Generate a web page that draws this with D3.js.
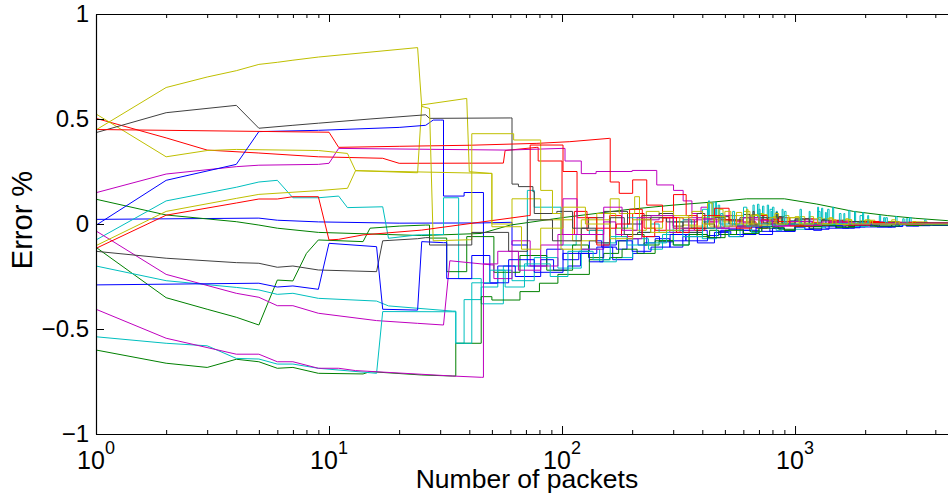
<!DOCTYPE html>
<html>
<head>
<meta charset="utf-8">
<script src="https://cdn.jsdelivr.net/npm/d3@7"></script>
<style>
  body { margin: 0; background: #fff; }
  svg { display: block; }
  text { font-family: "Liberation Sans", Arial, Helvetica, sans-serif; fill: #000; }
</style>
</head>
<body>
<svg id="chart" width="948" height="494"></svg>
<script>
// Running error estimate (%) against number of packets, one trace per run.
// Each run has an early part ([packets, error %] points joined by straight lines)
// and a later part where the estimate holds a level until the next change
// ([packets, new level] entries).
const blueA = [[1,.022],[5,.028],[6,.018],[9,.01],[20,.004],[45,.005],[60,.008]];
const blueALevels = [[61,-.1],[71,-.2],[86,-.12],[101,-.17],[118,-.13],[131,-.08],[148,-.11],[171,-.12],[190,-.07],[212,-.1],[231,-.06],[262,-.085],[301,-.08],[340,-.05],[381,-.03],[420,-.055],[470,-.035],[530,-.05],[600,-.03],[651,-.015],[720,-.035],[800,-.02],[901,-.03],[1000,-.012],[1100,-.025],[1201,-.008],[1350,-.02],[1500,-.01],[1650,-.018],[1801,-.015],[2000,-.006],[2250,-.014],[2601,-.004],[3000,-.01],[3400,-.003],[3900,-.007],[5000,-.002]];

const greenA = [[1,.118],[2,.043],[4,.011],[5,-.005],[6,-.02],[9,-.04],[25,-.055],[45,-.045],[60,-.005],[100,.03],[195,.07],[300,.09],[450,.105],[620,.12],[900,.12],[1240,.095],[1780,.06],[2500,.04],[3300,.027],[4500,.016]];
const greenALevels = [[5000,.014]];

const redA = [[1,.503],[2,.41],[3,.352],[5,.338],[9,.32],[17,.313],[20,.289],[56,.29],[57,.35],[78,.365]];
const redALevels = [[79,.3],[100,-.05],[113,.06],[128,-.03],[141,-.02],[160,.04],[180,-.06],[201,.05],[225,-.02],[251,-.03],[280,.03],[331,.02],[370,-.03],[410,.01],[451,-.015],[500,.02],[560,-.01],[601,.01],[680,-.02],[760,.012],[851,-.008],[950,.015],[1050,-.01],[1180,.008],[1301,-.005],[1450,.01],[1650,-.006],[1850,.006],[2201,-.003],[2600,.005],[3100,-.004],[3700,.002],[5000,0]];

const cyanA = [[1,-.076],[2,.11],[4,.175],[5,.2],[6,.208],[7,.125],[9,.125],[11,.133],[12,.078],[17,.082],[18,-.068],[24,-.052],[30,-.05]];
const cyanALevels = [[31,.125],[36,-.26],[45,-.38],[56,-.2],[71,.16],[76,.08],[99,-.1],[115,-.05],[131,-.03],[150,-.09],[170,-.02],[191,.03],[215,-.04],[240,0],[261,-.04],[300,.01],[331,.02],[360,-.02],[400,.01],[425,.11],[430,.02],[440,.1],[446,.03],[455,.105],[460,.03],[468,.09],[475,0],[520,.02],[560,-.01],[600,.03],[660,.09],[668,.03],[690,.094],[700,.02],[725,.085],[735,.03],[760,.09],[770,.01],[800,.08],[812,.02],[830,.06],[840,0],[950,.015],[1050,-.005],[1250,.08],[1262,.02],[1300,.075],[1315,.02],[1380,.07],[1400,.015],[1450,.08],[1465,.005],[1700,.065],[1720,.01],[1800,.06],[1820,.005],[1950,.055],[1970,0],[2300,.04],[2330,.003],[2700,.035],[2740,0],[3100,.03],[3150,.002],[3600,.02],[3650,0],[5000,.001]];

const magentaA = [[1,.149],[2,.238],[4,.273],[5,.28],[9,.284],[10,.289],[11,.36],[58,.352],[100,.36]];
const magentaALevels = [[103,.3],[121,.24],[140,.25],[200,.255],[255,.186],[301,.16],[331,.11],[361,.05],[395,.08],[421,.01],[470,.04],[521,.04],[560,.01],[601,.005],[660,.03],[720,0],[801,.025],[880,.005],[1001,-.002],[1100,.02],[1250,0],[1501,.015],[1700,0],[2001,.01],[2400,-.002],[2900,.008],[3500,0],[5000,.003]];

const yellowA = [[1,.524],[2,.32],[3,.35],[4,.355],[9,.35],[12,.336],[13,.254],[24,.244],[25,.567],[39,.598],[40,.249],[49,.241]];
const yellowALevels = [[50,0],[61,.12],[81,.02],[111,-.08],[141,.05],[170,-.02],[201,-.03],[230,.06],[261,.04],[300,-.02],[331,-.005],[380,.03],[430,-.01],[471,.07],[491,.01],[540,.04],[600,-.005],[650,.045],[701,.05],[731,.005],[800,.035],[870,0],[950,.03],[1050,.005],[1151,.035],[1201,.002],[1320,.025],[1450,0],[1600,.02],[1750,.002],[1900,.015],[2101,.018],[2201,.001],[2500,.012],[2800,0],[3200,.01],[3700,.002],[5000,.002]];

const blackA = [[1,.435],[2,.53],[4,.565],[5,.456],[7,.47],[9,.48],[15,.5],[26,.52],[27,.503],[60,.505]];
const blackALevels = [[61,.19],[65,.178],[75,.154],[76,.05],[95,.06],[111,-.02],[130,.03],[151,.06],[191,0],[220,.04],[261,.05],[300,-.01],[331,.01],[380,.05],[410,0],[451,.035],[521,0],[580,.03],[640,0],[660,.06],[668,0],[700,.04],[730,.005],[761,.03],[801,.01],[830,.055],[838,0],[880,.035],[900,0],[1000,.025],[1100,0],[1301,.02],[1351,0],[1500,.015],[1650,-.002],[1900,.012],[2100,0],[2500,.008],[2900,-.002],[3500,.005],[5000,.002]];

const blueB = [[1,-.006],[2,.208],[4,.284],[5,.44],[9,.446],[20,.46],[26,.47],[28,.495],[30,.495]];
const blueBLevels = [[31,.133],[38,.15],[46,-.282],[53,-.2],[63,-.25],[81,-.17],[92,-.22],[106,-.2],[120,-.14],[141,-.11],[165,-.17],[201,-.14],[225,-.09],[251,-.07],[290,-.11],[330,-.06],[381,-.09],[451,-.04],[520,-.06],[600,-.03],[701,-.05],[801,-.02],[900,-.035],[1000,-.015],[1100,-.025],[1201,-.03],[1301,-.01],[1500,-.02],[1700,-.006],[2000,-.014],[2501,-.015],[2701,-.003],[3200,-.008],[3800,-.002],[5000,-.001]];

const greenB = [[1,-.111],[2,-.351],[3,-.406],[4,-.444],[5,-.481],[6,-.267],[7,-.271],[8,-.14],[9,-.076],[14,-.084],[15,-.02],[20,-.01],[26,-.005]];
const greenBLevels = [[27,-.067],[32,-.227],[39,-.06],[51,-.23],[66,-.15],[86,-.22],[111,-.1],[130,-.16],[151,-.14],[175,-.08],[191,-.05],[225,-.1],[261,-.08],[300,-.04],[331,-.02],[380,-.06],[430,-.03],[471,-.05],[561,-.01],[640,-.035],[720,-.012],[851,-.025],[1001,-.005],[1150,-.02],[1300,-.004],[1500,-.015],[1701,-.012],[1801,-.002],[2100,-.01],[2600,-.001],[3000,-.007],[3600,0],[5000,0]];

const redB = [[1,.45],[10,.437],[11,.365],[20,.37],[40,.375],[78,.384],[108,.392],[160,.408]];
const redBLevels = [[161,.2],[176,.146],[201,.21],[231,.09],[270,.03],[301,.14],[341,.04],[380,-.02],[451,.075],[521,.015],[600,-.01],[701,.04],[761,.005],[850,.03],[950,-.005],[1101,.025],[1201,.002],[1400,.018],[1600,-.004],[2001,.012],[2301,0],[2700,.008],[3300,-.002],[5000,.001]];

const cyanB = [[1,-.2],[2,-.27],[4,-.302],[5,-.314],[6,-.335],[7,-.33],[9,-.354],[16,-.367],[18,-.39],[34,-.415]];
const cyanBLevels = [[35,-.568],[38,-.36],[45,-.3],[53,-.22],[61,-.27],[76,-.16],[96,-.21],[121,-.12],[145,-.18],[171,-.16],[201,-.07],[235,-.12],[270,-.05],[301,-.1],[351,-.04],[400,-.07],[460,-.02],[521,-.06],[581,-.015],[650,-.04],[700,.05],[706,-.01],[790,.06],[798,-.005],[830,-.03],[880,.07],[888,0],[1001,-.025],[1101,-.004],[1150,.06],[1160,0],[1300,-.018],[1350,.055],[1362,0],[1620,.05],[1635,0],[1800,-.012],[2050,.04],[2070,0],[2400,.03],[2430,0],[2700,-.008],[2900,.025],[2940,0],[5000,-.001]];

const magentaB = [[1,-.033],[2,-.24],[4,-.33],[5,-.349],[6,-.389],[7,-.389],[9,-.425],[16,-.46],[24,-.473],[31,-.481],[33,-.175],[50,-.195]];
const magentaBLevels = [[51,-.26],[61,-.08],[73,-.2],[96,-.05],[121,-.12],[151,.01],[170,-.05],[191,-.07],[220,.02],[261,.03],[290,-.04],[321,-.03],[370,.02],[421,.02],[480,-.02],[561,-.015],[640,.02],[751,.015],[820,-.01],[901,-.008],[1000,.012],[1200,-.005],[1401,.008],[1650,-.004],[1901,-.002],[2300,.006],[2800,-.002],[3400,.003],[5000,.001]];

const yellowB = [[1,.448],[2,.65],[3,.7],[4,.73],[5,.76],[6,.77],[7,.78],[9,.795],[24,.84],[25,.56],[27,.55],[28,-.08],[40,-.075]];
const yellowBLevels = [[41,.43],[62,.4],[81,.16],[91,.05],[99,-.12],[121,.02],[161,.12],[176,.05],[205,.13],[215,.03],[241,-.02],[270,.06],[301,.04],[350,-.01],[421,.1],[441,.02],[500,.06],[530,0],[601,.06],[641,0],[700,.045],[760,.005],[820,.05],[850,0],[901,.04],[941,.005],[1050,.035],[1100,0],[1250,.03],[1300,.002],[1401,.03],[1451,0],[1650,.025],[1700,0],[2000,.02],[2100,0],[2601,.02],[2701,.003],[3200,.012],[3300,0],[5000,.002]];

const blackB = [[1,-.13],[2,-.163],[4,-.184],[5,-.187],[6,-.206],[7,-.2],[9,-.219],[16,-.227],[17,-.08],[24,-.07],[26,-.065]];
const blackBLevels = [[27,-.1],[41,-.04],[59,-.13],[71,.02],[91,-.08],[121,-.02],[140,-.09],[161,.03],[185,-.05],[211,-.04],[240,.03],[281,.01],[330,-.04],[401,-.02],[450,.03],[501,.02],[601,.045],[641,-.005],[700,.03],[760,0],[850,.035],[880,0],[1000,.02],[1101,.025],[1151,0],[1300,.018],[1400,-.004],[1700,.012],[1900,-.002],[2300,.008],[2800,0],[3300,.005],[5000,.002]];

const blueC = [[1,-.29],[5,-.282],[6,-.3],[7,-.295],[9,-.311],[10,-.092],[16,-.108],[17,-.406],[24,-.41],[25,-.084],[31,-.089]];
const blueCLevels = [[32,-.26],[41,-.15],[49,-.28],[59,-.17],[76,-.23],[101,-.14],[131,-.18],[150,-.1],[171,-.08],[200,-.13],[241,-.11],[291,-.05],[340,-.08],[421,-.065],[480,-.03],[521,-.025],[600,-.05],[680,-.015],[780,-.035],[901,-.035],[1001,-.012],[1150,-.025],[1400,-.008],[1600,-.02],[1801,-.018],[1901,-.004],[2300,-.012],[2900,-.002],[3500,-.006],[5000,-.001]];

const greenC = [[1,-.6],[2,-.663],[3,-.683],[4,-.644],[5,-.656],[6,-.687],[7,-.683],[9,-.711],[14,-.714],[15,-.703],[25,-.719],[34,-.724]];
const greenCLevels = [[35,-.568],[45,-.346],[50,-.362],[66,-.322],[80,-.282],[96,-.24],[131,-.17],[160,-.16],[181,-.12],[210,-.14],[251,-.08],[300,-.1],[351,-.05],[420,-.065],[501,-.03],[600,-.045],[700,-.02],[801,-.018],[900,-.03],[1000,-.012],[1301,-.008],[1500,-.015],[1800,-.004],[2200,-.01],[2800,-.002],[3400,-.005],[5000,-.002]];

const redC = [[1,-.116],[2,.042],[4,.1],[5,.119],[6,.119],[7,.13],[9,.13],[10,-.076],[11,-.073],[14,-.052],[25,-.029],[72,.04]];
const redCLevels = [[73,.376],[101,.25],[116,.03],[141,-.1],[160,-.02],[171,0],[195,.07],[221,-.06],[250,.01],[271,.03],[310,-.04],[351,-.02],[400,.04],[481,.02],[560,-.02],[651,-.01],[720,.02],[851,.012],[950,-.01],[1201,-.004],[1400,.01],[1700,-.005],[2100,.007],[2600,-.002],[3200,.004],[5000,0]];

const cyanC = [[1,-.537],[2,-.568],[3,-.58],[4,-.64],[5,-.643],[6,-.667],[7,-.667],[9,-.687],[16,-.711],[17,-.417],[34,-.418]];
const cyanCLevels = [[35,-.568],[41,-.28],[49,-.22],[57,-.3],[69,-.19],[89,-.25],[106,-.13],[136,-.17],[161,-.06],[190,-.1],[231,-.09],[281,-.03],[330,-.06],[401,.07],[421,-.02],[480,.05],[490,-.01],[540,.06],[550,-.005],[601,.08],[621,-.01],[700,.07],[708,0],[781,.07],[801,-.005],[900,.06],[915,0],[1050,.07],[1065,0],[1251,.06],[1281,-.002],[1550,.05],[1575,0],[1901,.04],[1951,0],[2450,.03],[2490,0],[3000,.025],[3050,0],[5000,.001]];

const magentaC = [[1,-.406],[2,-.544],[4,-.62],[5,-.62],[6,-.656],[7,-.656],[9,-.687],[11,-.687],[13,-.698],[34,-.724],[45,-.73]];
const magentaCLevels = [[46,-.19],[53,-.13],[65,-.22],[81,-.1],[101,.12],[116,-.05],[151,.08],[181,-.03],[210,.03],[241,.04],[301,-.02],[350,.03],[401,.025],[460,-.02],[521,-.01],[600,.03],[701,.015],[800,-.01],[950,.012],[1100,-.006],[1300,.01],[1601,.008],[1800,-.003],[2101,0],[2500,.005],[3000,-.002],[3600,.003],[5000,.001]];

const yellowC = [[1,-.103],[2,.06],[4,.122],[5,.141],[9,.159],[12,.17],[13,.254],[49,.241]];
const yellowCLevels = [[50,-.013],[67,-.12],[81,-.02],[101,.08],[126,0],[161,-.07],[201,.02],[240,-.04],[281,-.03],[320,.03],[361,.06],[401,0],[450,.035],[500,-.01],[561,.055],[591,0],[620,.07],[628,0],[660,.04],[700,-.005],[780,.03],[830,0],[930,.03],[1001,.035],[1041,0],[1200,.025],[1250,0],[1450,.02],[1500,-.002],[1701,.02],[1751,0],[2100,.015],[2150,0],[2700,.01],[2800,0],[5000,.002]];

// Draw order and colour of each run (MATLAB default line colours).
const runs = [
  [blueA, blueALevels], [greenA, greenALevels], [redA, redALevels], [cyanA, cyanALevels],
  [magentaA, magentaALevels], [yellowA, yellowALevels], [blackA, blackALevels],
  [blueB, blueBLevels], [greenB, greenBLevels], [redB, redBLevels], [cyanB, cyanBLevels],
  [magentaB, magentaBLevels], [yellowB, yellowBLevels], [blackB, blackBLevels],
  [blueC, blueCLevels], [greenC, greenCLevels], [redC, redCLevels], [cyanC, cyanCLevels],
  [magentaC, magentaCLevels], [yellowC, yellowCLevels]
];
const runColors = ["#0000ff","#008000","#ff0000","#00bfbf","#bf00bf","#bfbf00","#404040",
                   "#0000ff","#008000","#ff0000","#00bfbf","#bf00bf","#bfbf00","#404040",
                   "#0000ff","#008000","#ff0000","#00bfbf","#bf00bf","#bfbf00"];

const xDecades = [1, 10, 100, 1000];
const xDecadeExponents = ["0", "1", "2", "3"];
const yTicks = [-1, -0.5, 0, 0.5, 1];
const xTitle = "Number of packets";
const yTitle = "Error %";

const svg = d3.select("#chart");
const box = { left: 96, right: 957.9, top: 14, bottom: 434 };

const x = d3.scaleLog().domain([1, 5000]).range([box.left, box.right]);
const y = d3.scaleLinear().domain([-1, 1]).range([box.bottom, box.top]);

// minor ticks: 2..9 of each decade inside the domain
const xMinor = [];
for (const d of xDecades) for (let k = 2; k <= 9; k++) if (d * k <= 5000) xMinor.push(d * k);

svg.append("defs").append("clipPath").attr("id", "plotClip")
  .append("rect").attr("x", box.left).attr("y", box.top)
  .attr("width", box.right - box.left).attr("height", box.bottom - box.top);

const lineLinear = d3.line().x(d => x(d[0])).y(d => y(d[1]));
const lineSteps = d3.line().x(d => x(d[0])).y(d => y(d[1])).curve(d3.curveStepAfter);

const plot = svg.append("g").attr("clip-path", "url(#plotClip)");
runs.forEach(([early, levels], i) => {
  const g = plot.append("g")
    .attr("fill", "none")
    .attr("stroke", runColors[i])
    .attr("stroke-width", 1)
    .attr("stroke-linejoin", "round");
  g.append("path").datum(early).attr("d", lineLinear);
  // the held levels continue from the last early point
  g.append("path").datum([early[early.length - 1], ...levels]).attr("d", lineSteps);
});

// axes, ticks pointing into the box
function styleAxis(g) {
  g.selectAll("path.domain").attr("stroke", "#000").attr("stroke-width", 1.2);
  g.selectAll(".tick line").attr("stroke", "#000").attr("stroke-width", 1);
}

svg.append("g").attr("transform", `translate(0,${box.bottom})`)
  .call(d3.axisBottom(x).tickValues(xDecades).tickSizeInner(-8).tickSizeOuter(0).tickFormat(""))
  .call(styleAxis);
svg.append("g").attr("transform", `translate(0,${box.bottom})`)
  .call(d3.axisBottom(x).tickValues(xMinor).tickSizeInner(-4).tickSizeOuter(0).tickFormat(""))
  .call(styleAxis).select("path.domain").remove();

svg.append("g").attr("transform", `translate(0,${box.top})`)
  .call(d3.axisTop(x).tickValues(xDecades).tickSizeInner(-8).tickSizeOuter(0).tickFormat(""))
  .call(styleAxis);
svg.append("g").attr("transform", `translate(0,${box.top})`)
  .call(d3.axisTop(x).tickValues(xMinor).tickSizeInner(-4).tickSizeOuter(0).tickFormat(""))
  .call(styleAxis).select("path.domain").remove();

const gLeft = svg.append("g").attr("transform", `translate(${box.left},0)`)
  .call(d3.axisLeft(y).tickValues(yTicks).tickSizeInner(-8).tickSizeOuter(0).tickPadding(7)
    .tickFormat(d3.format("")))
  .call(styleAxis);
gLeft.selectAll(".tick text").attr("font-size", 24).attr("font-family", null).attr("fill", "#000");

// decade labels 10^k
const xl = svg.append("g");
xDecades.forEach((d, i) => {
  const t = xl.append("text").attr("x", x(d)).attr("y", 469)
    .attr("text-anchor", "middle").attr("font-size", 25);
  t.append("tspan").text("10");
  t.append("tspan").attr("dy", -15).attr("font-size", 18).text(xDecadeExponents[i]);
});

svg.append("text").attr("x", (box.left + box.right) / 2).attr("y", 488)
  .attr("text-anchor", "middle").attr("font-size", 26.5).text(xTitle);

svg.append("text").attr("transform", `translate(32,220) rotate(-90)`)
  .attr("text-anchor", "middle").attr("font-size", 29).text(yTitle);
</script>
</body>
</html>
